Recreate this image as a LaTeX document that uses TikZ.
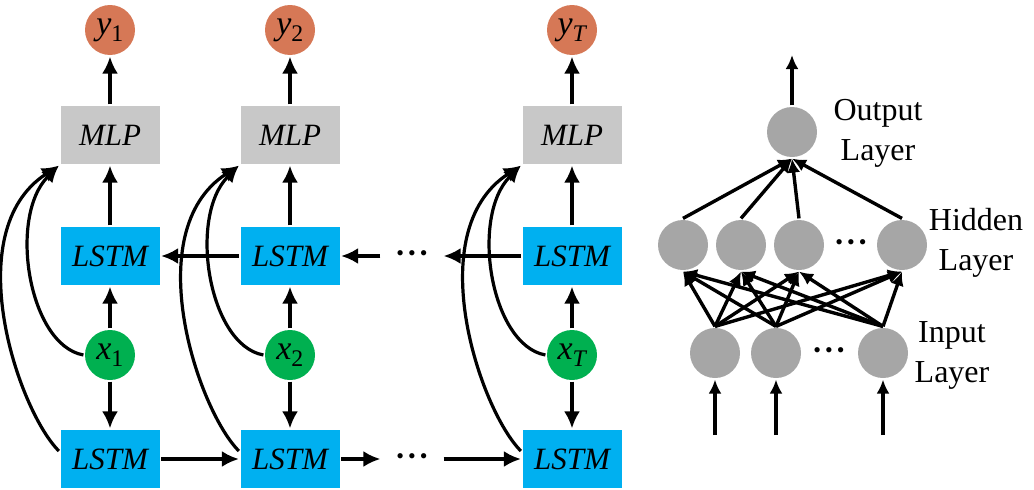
\documentclass[tikz,border=0pt]{standalone}
\usepackage{fontspec}
\setmainfont{Liberation Serif}
\usetikzlibrary{positioning,arrows.meta,calc}
\definecolor{lstmblue}{RGB}{0,176,240}
\definecolor{mlpgray}{RGB}{200,200,200}
\definecolor{ycolor}{RGB}{214,120,86}
\definecolor{xcolor}{RGB}{0,176,80}
\definecolor{neuron}{RGB}{166,166,166}
\newcommand{\hdots}{\textbullet\hspace{4pt}\textbullet\hspace{4pt}\textbullet}

\begin{document}
\begin{tikzpicture}[x=1pt,y=-1pt,>={Latex[length=17pt,width=16pt]},line width=3.2pt,
  box/.style={rectangle,minimum width=99pt,minimum height=58pt,inner sep=0pt,font=\fontsize{31}{36}\selectfont\itshape},
  lstm/.style={box,fill=lstmblue},
  mlp/.style={box,fill=mlpgray},
  var/.style={circle,minimum size=50pt,inner sep=0pt,font=\fontsize{34}{36}\selectfont\itshape},
  unit/.style={circle,minimum size=50pt,inner sep=0pt,fill=neuron},
  dotsnode/.style={minimum width=60pt,inner sep=0pt,font=\fontsize{22}{24}\selectfont},
  lbl/.style={align=center,font=\fontsize{32}{40}\selectfont},
  thin arrow/.style={-{Latex[length=14pt,width=13pt]},line width=3.4pt}]
\useasboundingbox (0,0) rectangle (1034,490);
\foreach \cx/\idx/\col in {110/\textup{1}/1, 290/\textup{2}/2, 572/T/3}{
  \node[var,fill=ycolor] (y\col) at (\cx,30) {y\textsubscript{\idx}};
  \node[mlp] (m\col) at (\cx,135) {MLP};
  \node[lstm] (u\col) at (\cx,256) {LSTM};
  \node[var,fill=xcolor] (x\col) at (\cx,355) {x\textsubscript{\idx}};
  \node[lstm] (l\col) at (\cx,459) {LSTM};
  \draw[->] (m\col) -- (y\col);
  \draw[->] (u\col) -- (m\col);
  \draw[->] (x\col) -- (u\col);
  \draw[->] (x\col) -- (l\col);
  \draw[->] (x\col.west) .. controls +(-55,-10) and +(-51,51) .. (m\col.south west);
  \draw[->] ([yshift=8pt]l\col.west) .. controls +(-41,-41) and +(-101,66) .. (m\col.south west);
}
\node[dotsnode] (ud) at (412,256) {\hdots};
\node[dotsnode] (ld) at (412,459) {\hdots};
\draw[->] (u3) -- (ud);
\draw[->] (ud) -- (u2);
\draw[->] (u2) -- (u1);
\draw[->] (l1) -- (l2);
\draw[->] (l2) -- (ld);
\draw[->] (ld) -- (l3);

\node[unit] (o) at (792,132) {};
\foreach \h/\x in {1/683,2/741,3/799,4/902}{
  \node[unit] (h\h) at (\x,245) {};}
\node[dotsnode] (hd) at (851,245) {\hdots};
\foreach \i/\x in {1/715,2/776,3/883}{
  \node[unit] (i\i) at (\x,353) {};
  \coordinate (in\i) at (\x,435);
  \draw[thin arrow] (in\i) -- (i\i);}
\node[dotsnode] (id) at (829,353) {\hdots};
\coordinate (otop) at (792,55);
\draw[thin arrow] (o) -- (otop);
\foreach \i in {1,2,3}{\foreach \h in {1,...,4}{
  \draw[thin arrow] (i\i.north) -- (h\h.south);}}
\foreach \h in {1,...,4}{\draw[thin arrow] (h\h.north) -- (o.south);}
\node[lbl] (ol) at (878,133) {Output\\Layer};
\node[lbl] (hl) at (976,243) {Hidden\\Layer};
\node[lbl] (il) at (952,355) {Input\\Layer};
\end{tikzpicture}
\end{document}
